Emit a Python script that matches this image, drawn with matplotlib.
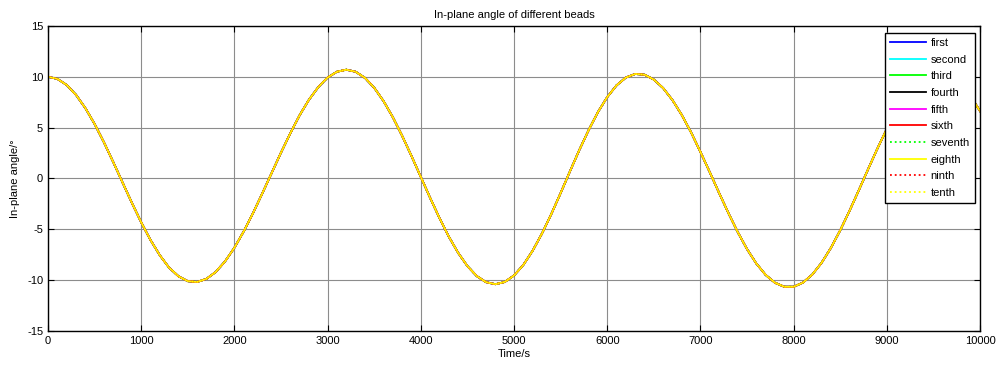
import numpy as np
import matplotlib.pyplot as plt

plt.rcParams['font.family'] = ['Liberation Sans', 'DejaVu Sans']
plt.rcParams['font.size'] = 8
plt.rcParams['axes.unicode_minus'] = False

# time samples (s) and in-plane angle (deg)
time = np.arange(0, 10001, 100)
angle = [10.00, 9.80, 9.20, 8.23, 6.93, 5.36, 3.56, 1.61, -0.40, -2.40,
         -4.31, -6.06, -7.56, -8.78, -9.62, -10.10, -10.18, -9.87, -9.19, -8.15,
         -6.81, -5.20, -3.40, -1.45, 0.55, 2.55, 4.45, 6.23, 7.75, 8.99,
         9.93, 10.50, 10.70, 10.50, 9.90, 8.92, 7.61, 6.02, 4.19, 2.21,
         0.15, -1.91, -3.89, -5.72, -7.31, -8.62, -9.60, -10.20, -10.40, -10.18,
         -9.54, -8.50, -7.10, -5.41, -3.50, -1.43, 0.70, 2.79, 4.75, 6.53,
         8.01, 9.16, 9.93, 10.28, 10.21, 9.73, 8.89, 7.71, 6.24, 4.53,
         2.61, 0.62, -1.42, -3.40, -5.27, -6.95, -8.37, -9.49, -10.26, -10.65,
         -10.65, -10.24, -9.45, -8.29, -6.82, -5.09, -3.17, -1.14, 0.94, 2.97,
         4.89, 6.62, 8.09, 9.25, 10.04, 10.45, 10.45, 10.04, 9.25, 8.09,
         6.62]

labels = ['first', 'second', 'third', 'fourth', 'fifth',
          'sixth', 'seventh', 'eighth', 'ninth', 'tenth']
colors = ['#0000ff', '#00ffff', '#00ff00', '#000000', '#ff00ff',
          '#ff0000', '#00ff00', '#ffff00', '#ff0000', '#ffff00']
styles = ['-', '-', '-', '-', '-', '-', ':', '-', ':', ':']

fig = plt.figure(figsize=(9.96, 3.65), dpi=100)
ax = fig.add_axes([0.0482, 0.0932, 0.9358, 0.8356])

for lab, c, ls in zip(labels, colors, styles):
    ax.plot(time, angle, color=c, linestyle=ls, linewidth=1.3, label=lab)

ax.set_xlim(0, 10000)
ax.set_ylim(-15, 15)
ax.set_xticks(np.arange(0, 10001, 1000))
ax.set_yticks(np.arange(-15, 16, 5))
ax.grid(True, color='0.55', linewidth=0.8)
ax.tick_params(direction='in', length=4, top=True, right=True, width=0.8)
for s in ax.spines.values():
    s.set_linewidth(1.0)
    s.set_color('black')

ax.set_title('In-plane angle of different beads', fontsize=8, pad=6)
ax.set_xlabel('Time/s', labelpad=2)
ax.set_ylabel('In-plane angle/°', labelpad=5)

leg = ax.legend(loc='upper right', bbox_to_anchor=(0.9946, 0.977),
                fancybox=False, framealpha=1, edgecolor='black',
                handlelength=3.2, handletextpad=0.45, labelspacing=0.6,
                borderpad=0.45, borderaxespad=0)
leg.get_frame().set_linewidth(1.0)

plt.savefig('out.png', dpi=100)
